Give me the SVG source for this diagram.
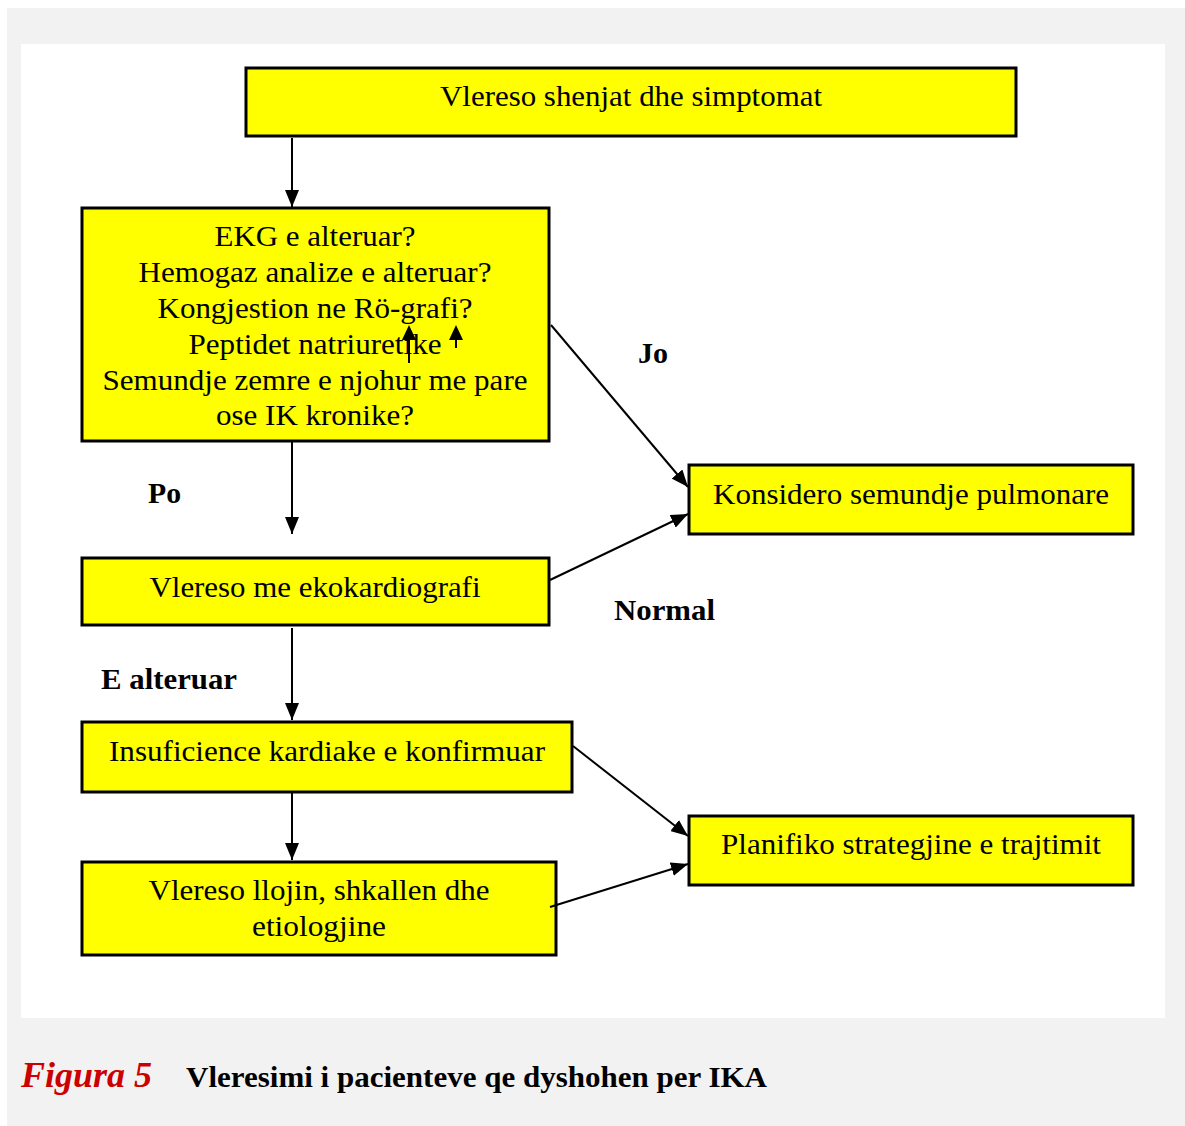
<svg xmlns="http://www.w3.org/2000/svg" width="1185" height="1126" viewBox="0 0 1185 1126">
  <style>
    .box { fill: #ffff00; stroke: #000; stroke-width: 3; }
    .txt { font-family: "Liberation Serif", "Times New Roman", serif; font-size: 30px; fill: #000; text-anchor: middle; }
    .lbl { font-family: "Liberation Serif", "Times New Roman", serif; font-size: 30px; font-weight: bold; fill: #000; }
    .edge { stroke: #000; stroke-width: 2; fill: none; marker-end: url(#arrow); }
  </style>
  <defs>
    <marker id="arrow" markerUnits="userSpaceOnUse" markerWidth="18" markerHeight="14" refX="17" refY="7" orient="auto">
      <path d="M0,0 L17,7 L0,14 Z" fill="#000"/>
    </marker>
  </defs>

  <!-- page background and frame -->
  <rect x="7" y="8" width="1178" height="1118" fill="#f2f2f2"/>
  <rect x="21" y="44" width="1144" height="974" fill="#ffffff"/>

  <g id="n-start">
    <rect class="box" x="246" y="68" width="770" height="68"/>
    <text class="txt" x="631" y="106" textLength="382" lengthAdjust="spacingAndGlyphs">Vlereso shenjat dhe simptomat</text>
  </g>

  <g id="n-tests">
    <rect class="box" x="82" y="208" width="467" height="233"/>
    <text class="txt" x="315" y="246" textLength="201" lengthAdjust="spacingAndGlyphs">EKG e alteruar?</text>
    <text class="txt" x="315" y="282" textLength="353" lengthAdjust="spacingAndGlyphs">Hemogaz analize e alteruar?</text>
    <text class="txt" x="315" y="318" textLength="315" lengthAdjust="spacingAndGlyphs">Kongjestion ne Rö-grafi?</text>
    <text class="txt" x="315" y="354" textLength="253" lengthAdjust="spacingAndGlyphs">Peptidet natriuretike</text>
    <text class="txt" x="315" y="390" textLength="425" lengthAdjust="spacingAndGlyphs">Semundje zemre e njohur me pare</text>
    <text class="txt" x="315" y="425" textLength="198" lengthAdjust="spacingAndGlyphs">ose IK kronike?</text>
    <!-- two small up-arrows drawn over the text -->
    <line x1="409" y1="363" x2="409" y2="336" stroke="#000" stroke-width="2"/>
    <path d="M402,340 L409,325 L416,340 Z" fill="#000"/>
    <line x1="456" y1="348" x2="456" y2="336" stroke="#000" stroke-width="2"/>
    <path d="M449,340 L456,325 L463,340 Z" fill="#000"/>
  </g>

  <g id="n-pulm">
    <rect class="box" x="689" y="465" width="444" height="69"/>
    <text class="txt" x="911" y="504" textLength="396" lengthAdjust="spacingAndGlyphs">Konsidero semundje pulmonare</text>
  </g>

  <g id="n-echo">
    <rect class="box" x="82" y="558" width="467" height="67"/>
    <text class="txt" x="315" y="597" textLength="331" lengthAdjust="spacingAndGlyphs">Vlereso me ekokardiografi</text>
  </g>

  <g id="n-confirmed">
    <rect class="box" x="82" y="722" width="490" height="70"/>
    <text class="txt" x="327" y="761" textLength="436" lengthAdjust="spacingAndGlyphs">Insuficience kardiake e konfirmuar</text>
  </g>

  <g id="n-type">
    <rect class="box" x="82" y="862" width="474" height="93"/>
    <text class="txt" x="319" y="900" textLength="341" lengthAdjust="spacingAndGlyphs">Vlereso llojin, shkallen dhe</text>
    <text class="txt" x="319" y="936" textLength="134" lengthAdjust="spacingAndGlyphs">etiologjine</text>
  </g>

  <g id="n-plan">
    <rect class="box" x="689" y="816" width="444" height="69"/>
    <text class="txt" x="911" y="854" textLength="380" lengthAdjust="spacingAndGlyphs">Planifiko strategjine e trajtimit</text>
  </g>

  <!-- connectors and their labels -->
  <g id="connectors">
    <line class="edge" x1="292" y1="138" x2="292" y2="207"/>
    <line class="edge" x1="292" y1="442" x2="292" y2="534"/>
    <line class="edge" x1="292" y1="628" x2="292" y2="720"/>
    <line class="edge" x1="292" y1="793" x2="292" y2="860"/>
    <line class="edge" x1="551" y1="325" x2="688" y2="487"/>
    <line class="edge" x1="550" y1="580" x2="688" y2="514"/>
    <line class="edge" x1="573" y1="746" x2="688" y2="836"/>
    <line class="edge" x1="550" y1="907" x2="688" y2="864"/>
    <text class="lbl" x="638" y="363" textLength="30" lengthAdjust="spacingAndGlyphs">Jo</text>
    <text class="lbl" x="148" y="503" textLength="33" lengthAdjust="spacingAndGlyphs">Po</text>
    <text class="lbl" x="614" y="620" textLength="101" lengthAdjust="spacingAndGlyphs">Normal</text>
    <text class="lbl" x="101" y="689" textLength="136" lengthAdjust="spacingAndGlyphs">E alteruar</text>
  </g>

  <!-- caption -->
  <g id="caption">
    <text x="21" y="1087" font-family="Liberation Serif, Times New Roman, serif" font-size="35" font-style="italic" font-weight="bold" fill="#cc0000" textLength="131" lengthAdjust="spacingAndGlyphs">Figura 5</text>
    <text x="186" y="1087" font-family="Liberation Serif, Times New Roman, serif" font-size="30" font-weight="bold" fill="#000" textLength="581" lengthAdjust="spacingAndGlyphs">Vleresimi i pacienteve qe dyshohen per IKA</text>
  </g>
</svg>
